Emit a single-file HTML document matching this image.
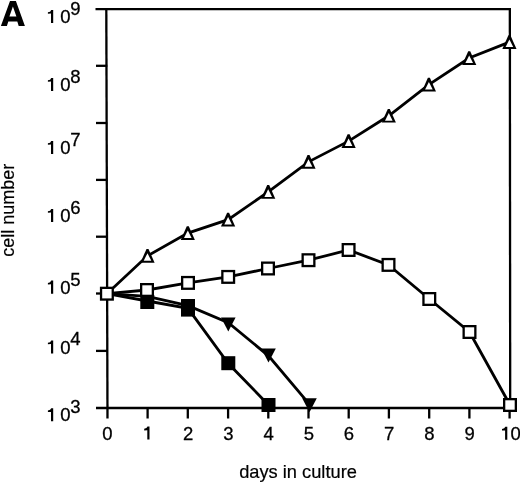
<!DOCTYPE html>
<html><head><meta charset="utf-8"><style>
html,body{margin:0;padding:0;background:#fff;}
svg{display:block;will-change:transform;}
.ln{fill:none;stroke:#000;stroke-width:2.8;stroke-linejoin:miter;}
.ax{stroke:#000;stroke-width:2.3;}
.t{font-family:"Liberation Sans",sans-serif;font-size:18.5px;fill:#000;stroke:#000;stroke-width:0.3px;}
.A{font-family:"Liberation Sans",sans-serif;font-weight:bold;font-size:35.2px;fill:#000;stroke:#000;stroke-width:1.1px;stroke-linejoin:miter;}
.lab{font-family:"Liberation Sans",sans-serif;font-size:18.25px;fill:#000;stroke:#000;stroke-width:0.2px;}
</style></head><body>
<svg width="520" height="482" viewBox="0 0 520 482">
<rect width="520" height="482" fill="#fff"/>
<path d="M0.9,26.1 L10,0.9 L15.9,0.9 L24.9,26.1 L18.7,26.1 L17.3,21.5 L8.3,21.5 L6.9,26.1 Z M9.4,16.6 L16.4,16.6 L12.9,6.4 Z" fill-rule="evenodd"/>
<line x1="95.5" y1="9.05" x2="511" y2="9.05" class="ax"/><line x1="509.85" y1="7.9" x2="510.2" y2="409.1" class="ax"/><line x1="106.3" y1="7.9" x2="107.5" y2="418.5" class="ax"/><line x1="96" y1="408" x2="511.2" y2="408" class="ax"/><line x1="96" y1="65.8" x2="107.3" y2="65.8" class="ax"/><line x1="96" y1="123" x2="107.3" y2="123" class="ax"/><line x1="96" y1="179.9" x2="107.3" y2="179.9" class="ax"/><line x1="96" y1="236.7" x2="107.3" y2="236.7" class="ax"/><line x1="96" y1="293.5" x2="107.3" y2="293.5" class="ax"/><line x1="96" y1="350.9" x2="107.3" y2="350.9" class="ax"/><line x1="147.6" y1="408" x2="147.6" y2="418.5" class="ax"/><line x1="187.8" y1="408" x2="187.8" y2="418.5" class="ax"/><line x1="228.1" y1="408" x2="228.1" y2="418.5" class="ax"/><line x1="268.3" y1="408" x2="268.3" y2="418.5" class="ax"/><line x1="308.5" y1="408" x2="308.5" y2="418.5" class="ax"/><line x1="348.7" y1="408" x2="348.7" y2="418.5" class="ax"/><line x1="388.9" y1="408" x2="388.9" y2="418.5" class="ax"/><line x1="429.2" y1="408" x2="429.2" y2="418.5" class="ax"/><line x1="469.4" y1="408" x2="469.4" y2="418.5" class="ax"/><line x1="509.6" y1="408" x2="509.6" y2="418.5" class="ax"/>
<polyline points="106.90,293.70 147.50,255.85 187.80,233.05 228.10,219.65 268.20,191.95 308.50,161.85 348.60,141.15 388.80,115.75 428.90,84.55 469.20,58.05 509.40,42.15" class="ln"/><polyline points="106.90,293.70 147.00,290.00 188.00,282.90 228.20,276.90 268.00,268.50 308.50,260.20 348.60,250.00 388.50,264.90 429.30,299.00 469.50,332.00 510.00,405.00" class="ln"/><polyline points="106.90,293.70 147.30,301.00 188.00,308.30 228.30,363.50 268.50,405.00" class="ln"/><polyline points="106.90,293.70 147.30,296.30 188.00,305.60 228.30,322.60 268.50,355.80 309.50,404.40" class="ln"/>
<polygon points="221.00,317.40 235.60,317.40 228.30,331.40"/><polygon points="261.20,348.60 275.80,348.60 268.50,362.60"/><polygon points="302.20,398.30 316.80,398.30 309.50,412.30"/><rect x="140.30" y="295.00" width="14.0" height="14.0"/><rect x="181.00" y="302.60" width="14.0" height="14.0"/><rect x="221.30" y="356.20" width="14.0" height="14.0"/><rect x="261.50" y="398.00" width="14.0" height="14.0"/><rect x="181.00" y="299.00" width="14.0" height="14.0"/><rect x="99.90" y="286.70" width="14.0" height="14.0"/><rect x="102.20" y="289.00" width="9.4" height="9.4" fill="#fff"/><rect x="140.00" y="283.00" width="14.0" height="14.0"/><rect x="142.30" y="285.30" width="9.4" height="9.4" fill="#fff"/><rect x="181.00" y="275.90" width="14.0" height="14.0"/><rect x="183.30" y="278.20" width="9.4" height="9.4" fill="#fff"/><rect x="221.20" y="269.90" width="14.0" height="14.0"/><rect x="223.50" y="272.20" width="9.4" height="9.4" fill="#fff"/><rect x="261.00" y="261.50" width="14.0" height="14.0"/><rect x="263.30" y="263.80" width="9.4" height="9.4" fill="#fff"/><rect x="301.50" y="253.20" width="14.0" height="14.0"/><rect x="303.80" y="255.50" width="9.4" height="9.4" fill="#fff"/><rect x="341.60" y="243.00" width="14.0" height="14.0"/><rect x="343.90" y="245.30" width="9.4" height="9.4" fill="#fff"/><rect x="381.50" y="257.90" width="14.0" height="14.0"/><rect x="383.80" y="260.20" width="9.4" height="9.4" fill="#fff"/><rect x="422.30" y="292.00" width="14.0" height="14.0"/><rect x="424.60" y="294.30" width="9.4" height="9.4" fill="#fff"/><rect x="462.50" y="325.00" width="14.0" height="14.0"/><rect x="464.80" y="327.30" width="9.4" height="9.4" fill="#fff"/><rect x="503.00" y="398.00" width="14.0" height="14.0"/><rect x="505.30" y="400.30" width="9.4" height="9.4" fill="#fff"/><polygon points="146.50,249.00 148.50,249.00 154.60,262.70 140.40,262.70"/><polygon points="147.50,253.20 143.70,260.80 151.30,260.80" fill="#fff"/><polygon points="186.80,226.20 188.80,226.20 194.90,239.90 180.70,239.90"/><polygon points="187.80,230.40 184.00,238.00 191.60,238.00" fill="#fff"/><polygon points="227.10,212.80 229.10,212.80 235.20,226.50 221.00,226.50"/><polygon points="228.10,217.00 224.30,224.60 231.90,224.60" fill="#fff"/><polygon points="267.20,185.10 269.20,185.10 275.30,198.80 261.10,198.80"/><polygon points="268.20,189.30 264.40,196.90 272.00,196.90" fill="#fff"/><polygon points="307.50,155.00 309.50,155.00 315.60,168.70 301.40,168.70"/><polygon points="308.50,159.20 304.70,166.80 312.30,166.80" fill="#fff"/><polygon points="347.60,134.30 349.60,134.30 355.70,148.00 341.50,148.00"/><polygon points="348.60,138.50 344.80,146.10 352.40,146.10" fill="#fff"/><polygon points="387.80,108.90 389.80,108.90 395.90,122.60 381.70,122.60"/><polygon points="388.80,113.10 385.00,120.70 392.60,120.70" fill="#fff"/><polygon points="427.90,77.70 429.90,77.70 436.00,91.40 421.80,91.40"/><polygon points="428.90,81.90 425.10,89.50 432.70,89.50" fill="#fff"/><polygon points="468.20,51.20 470.20,51.20 476.30,64.90 462.10,64.90"/><polygon points="469.20,55.40 465.40,63.00 473.00,63.00" fill="#fff"/><polygon points="508.40,35.30 510.40,35.30 516.50,49.00 502.30,49.00"/><polygon points="509.40,39.50 505.60,47.10 513.20,47.10" fill="#fff"/>
<path d="M3.3,-13.1 L5.3,-13.1 L5.3,0 L3.1,0 L3.1,-9.4 L0,-9.2 L0,-10.8 Q2.8,-11 3.3,-13.1 Z" transform="translate(47.9,23.0)"/><text x="60.3" y="23.0" class="t">0</text><text x="70.2" y="14.8" class="t">9</text><path d="M3.3,-13.1 L5.3,-13.1 L5.3,0 L3.1,0 L3.1,-9.4 L0,-9.2 L0,-10.8 Q2.8,-11 3.3,-13.1 Z" transform="translate(47.9,91.0)"/><text x="60.3" y="91.0" class="t">0</text><text x="70.2" y="82.8" class="t">8</text><path d="M3.3,-13.1 L5.3,-13.1 L5.3,0 L3.1,0 L3.1,-9.4 L0,-9.2 L0,-10.8 Q2.8,-11 3.3,-13.1 Z" transform="translate(47.9,154.0)"/><text x="60.3" y="154.0" class="t">0</text><text x="70.2" y="145.8" class="t">7</text><path d="M3.3,-13.1 L5.3,-13.1 L5.3,0 L3.1,0 L3.1,-9.4 L0,-9.2 L0,-10.8 Q2.8,-11 3.3,-13.1 Z" transform="translate(47.9,222.0)"/><text x="60.3" y="222.0" class="t">0</text><text x="70.2" y="213.8" class="t">6</text><path d="M3.3,-13.1 L5.3,-13.1 L5.3,0 L3.1,0 L3.1,-9.4 L0,-9.2 L0,-10.8 Q2.8,-11 3.3,-13.1 Z" transform="translate(47.9,293.7)"/><text x="60.3" y="293.7" class="t">0</text><text x="70.2" y="285.5" class="t">5</text><path d="M3.3,-13.1 L5.3,-13.1 L5.3,0 L3.1,0 L3.1,-9.4 L0,-9.2 L0,-10.8 Q2.8,-11 3.3,-13.1 Z" transform="translate(47.9,353.5)"/><text x="60.3" y="353.5" class="t">0</text><text x="70.2" y="345.3" class="t">4</text><path d="M3.3,-13.1 L5.3,-13.1 L5.3,0 L3.1,0 L3.1,-9.4 L0,-9.2 L0,-10.8 Q2.8,-11 3.3,-13.1 Z" transform="translate(47.9,421.3)"/><text x="60.3" y="421.3" class="t">0</text><text x="70.2" y="413.1" class="t">3</text><text x="107.4" y="440.0" class="t" text-anchor="middle">0</text><path d="M3.3,-13.1 L5.3,-13.1 L5.3,0 L3.1,0 L3.1,-9.4 L0,-9.2 L0,-10.8 Q2.8,-11 3.3,-13.1 Z" transform="translate(144.2,439.6)"/><text x="188.1" y="440.0" class="t" text-anchor="middle">2</text><text x="228.4" y="440.0" class="t" text-anchor="middle">3</text><text x="268.6" y="440.0" class="t" text-anchor="middle">4</text><text x="308.8" y="440.0" class="t" text-anchor="middle">5</text><text x="349.0" y="440.0" class="t" text-anchor="middle">6</text><text x="389.2" y="440.0" class="t" text-anchor="middle">7</text><text x="429.5" y="440.0" class="t" text-anchor="middle">8</text><text x="469.7" y="440.0" class="t" text-anchor="middle">9</text><path d="M3.3,-13.1 L5.3,-13.1 L5.3,0 L3.1,0 L3.1,-9.4 L0,-9.2 L0,-10.8 Q2.8,-11 3.3,-13.1 Z" transform="translate(502.0,439.8)"/><text x="510.6" y="440.0" class="t">0</text>
<text x="239.2" y="477.5" class="lab">days in culture</text>
<text transform="translate(14.0,256.8) rotate(-90)" class="lab" style="font-size:18px">cell number</text>
</svg>
</body></html>
